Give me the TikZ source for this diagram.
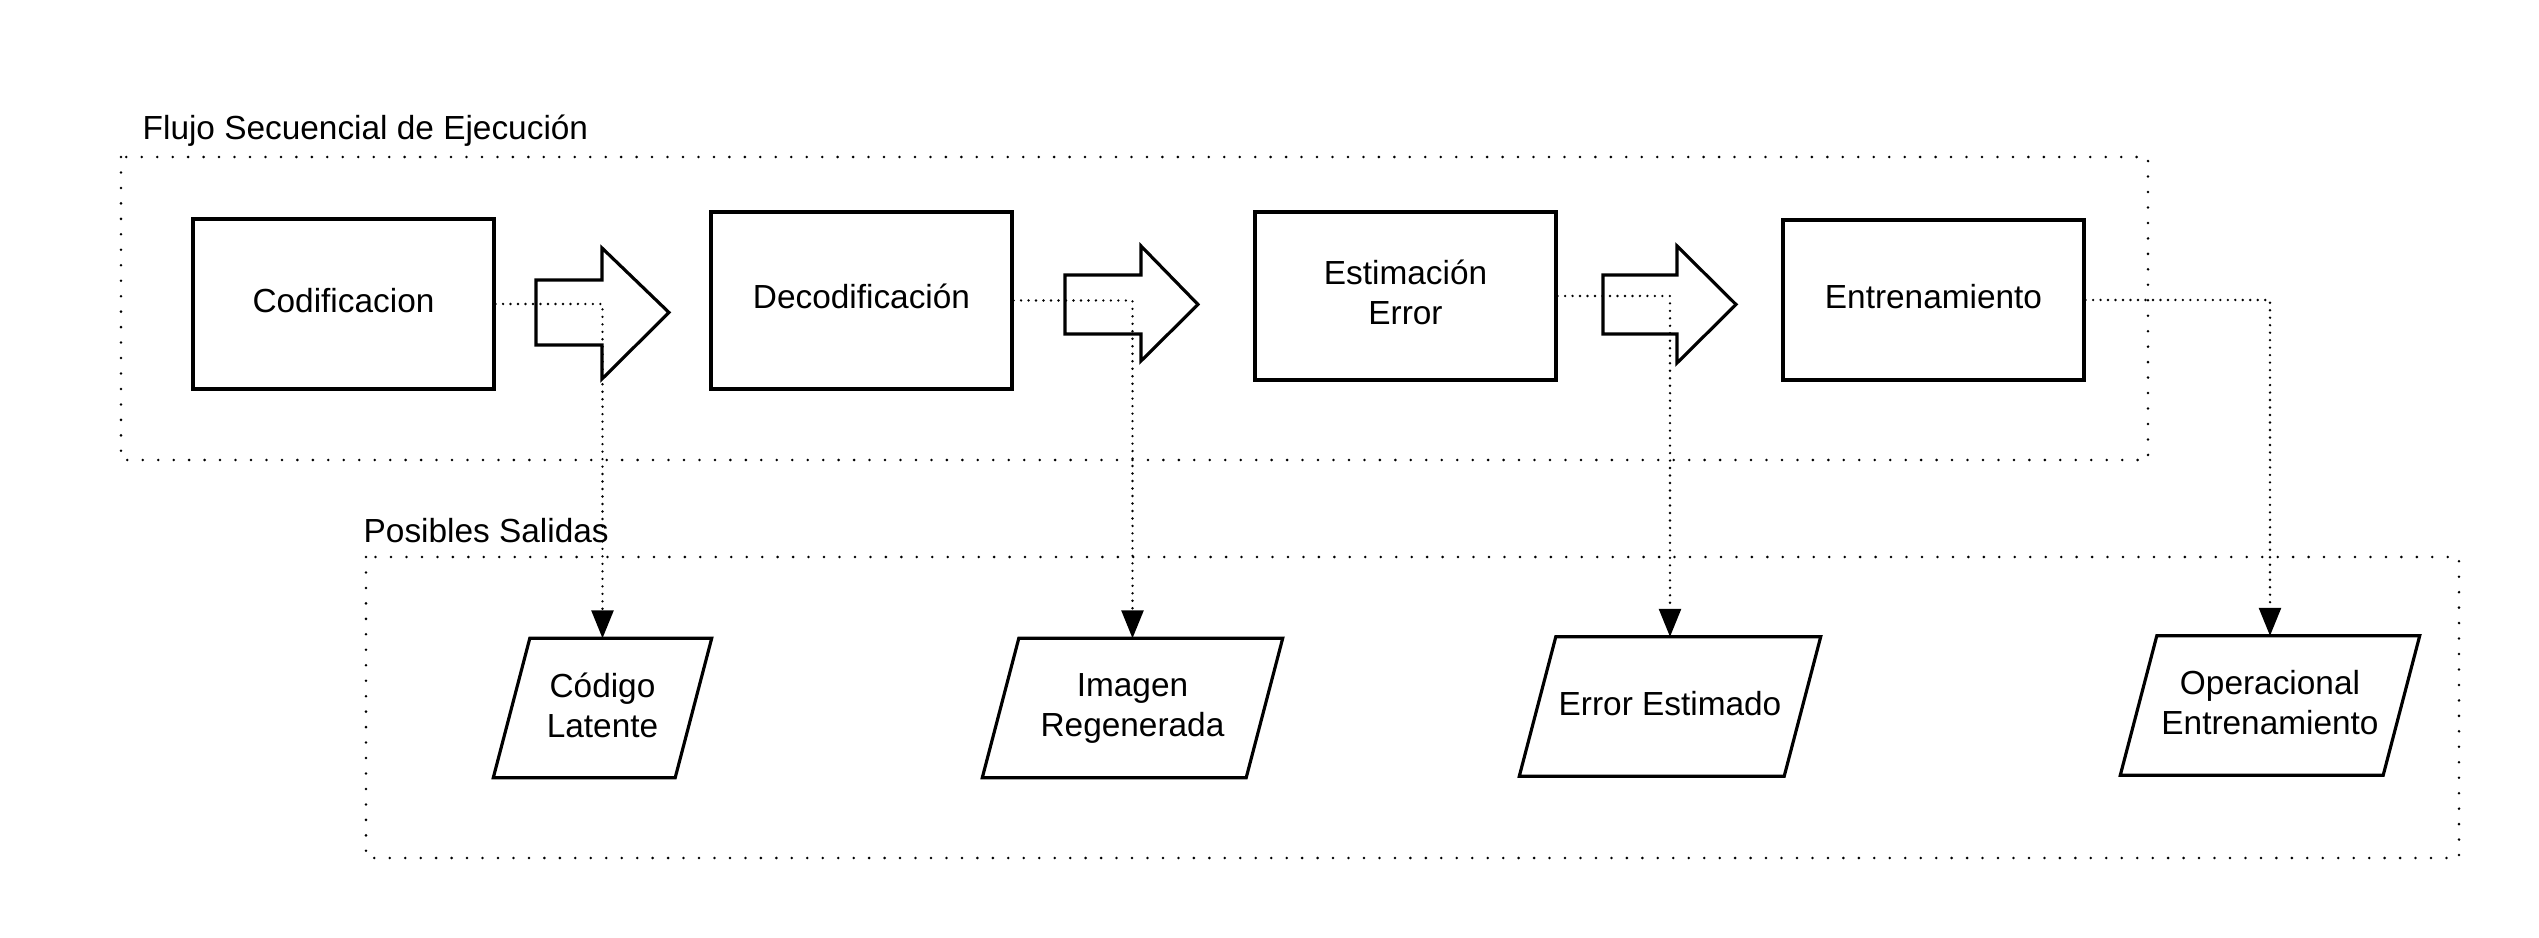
\documentclass[tikz,border=0pt]{standalone}
\usepackage{fontspec}
\setmainfont{Liberation Sans}
\usetikzlibrary{arrows.meta}

\tikzset{
    stage/.style={draw, line width=0.9pt, rectangle, minimum width=3.01cm, text depth=0.08cm, align=center},
    result/.style={rectangle, inner sep=0, minimum height=1.38cm, text depth=0.06cm, align=center},
    outline/.style={draw, line width=0.9pt, line join=miter},
    frame/.style={line width=0.8pt, dash pattern=on 0pt off 4.4pt, line cap=round},
    link/.style={line width=0.75pt, dash pattern=on 0pt off 2.13pt, line cap=round,
        -{Triangle[length=2.8mm,width=2.2mm]}},
    blockarrow/.style={draw, fill=white, line width=0.9pt, line join=miter},
}

\begin{document}
\begin{tikzpicture}[font=\fontsize{9.5pt}{11.4pt}\selectfont]
        \fill[white] (0,0) rectangle (25.39,9.38);
        \useasboundingbox (0,0) rectangle (25.39,9.38);

        % marcos
        \draw[frame] (1.21,7.81) rectangle (21.48,4.78);
        \draw[frame] (3.66,3.81) rectangle (24.59,0.80);
        \node[anchor=west, inner sep=0] (flowtitle) at (1.42,8.07) {Flujo Secuencial de Ejecución};
        \node[anchor=west, inner sep=0] (outtitle) at (3.63,4.07) {Posibles Salidas};

        % etapas
        \node[stage, minimum height=1.70cm] (cod) at (3.435,6.34) {Codificacion};
        \node[stage, minimum height=1.77cm] (dec) at (8.615,6.375) {Decodificación};
        \node[stage, minimum height=1.68cm] (est) at (14.055,6.42) {Estimación\\Error};
        \node[stage, minimum height=1.60cm] (ent) at (19.335,6.38) {Entrenamiento};

        % flechas de bloque
        \draw[blockarrow] (5.36,6.58) -- (6.02,6.58) -- (6.02,6.90) -- (6.69,6.255)
            -- (6.02,5.59) -- (6.02,5.93) -- (5.36,5.93) -- cycle;
        \draw[blockarrow] (10.65,6.63) -- (11.41,6.63) -- (11.41,6.92) -- (11.98,6.335)
            -- (11.41,5.77) -- (11.41,6.04) -- (10.65,6.04) -- cycle;
        \draw[blockarrow] (16.03,6.63) -- (16.77,6.63) -- (16.77,6.92) -- (17.36,6.335)
            -- (16.77,5.75) -- (16.77,6.04) -- (16.03,6.04) -- cycle;

        % salidas
        \node[result, minimum width=2.17cm] (lat) at (6.025,2.30) {Código\\Latente};
        \node[result, minimum width=2.99cm] (img) at (11.325,2.30) {Imagen\\Regenerada};
        \node[result, minimum width=3.00cm] (err) at (16.70,2.315) {Error Estimado};
        \node[result, minimum width=2.98cm] (ope) at (22.70,2.325) {Operacional\\Entrenamiento};
        \foreach \n in {lat,img,err,ope}
            \draw[outline] ([xshift=3.65mm]\n.north west) -- (\n.north east)
                -- ([xshift=-3.65mm]\n.south east) -- (\n.south west) -- cycle;

        \draw[link] (cod.east) -| (lat.north);
        \draw[link] (dec.east) -| (img.north);
        \draw[link] (est.east) -| (err.north);
        \draw[link] (ent.east) -| (ope.north);
\end{tikzpicture}
\end{document}
